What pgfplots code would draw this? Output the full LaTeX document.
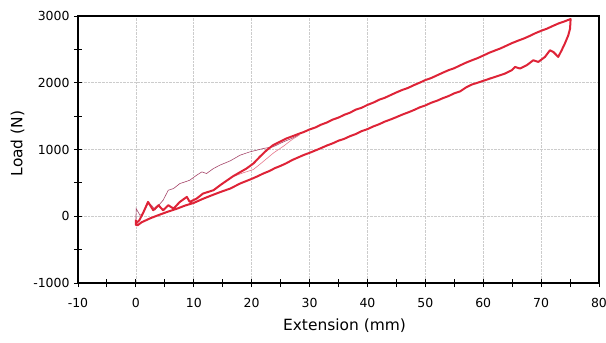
\documentclass[border=0pt]{standalone}
\usepackage{fontspec}
\setmainfont{DejaVu Sans}
\usepackage{pgfplots}
\pgfplotsset{compat=1.18}
\definecolor{mainred}{RGB}{222,35,55}
\definecolor{thinpurple}{RGB}{165,70,105}
\definecolor{lightpink}{RGB}{230,120,140}
\begin{document}
\begin{tikzpicture}
\begin{axis}[
  name=ax,
  scale only axis,
  width=521bp, height=267bp,
  xmin=-10, xmax=80, ymin=-1000, ymax=3000,
  xtick={-10,0,...,80},
  ytick={-1000,0,...,3000},
  minor tick num=1,
  tick pos=left,
  tick align=center,
  major tick length=8bp,
  minor tick length=8bp,
  tick style={black, line width=1pt},
  axis line style={black, line width=1.2pt},
  grid=major,
  major grid style={gray!40, densely dotted, line width=0.7pt},
  /pgf/number format/assume math mode=true,
  /pgf/number format/1000 sep={},
  ticklabel style={font=\fontsize{12.5}{14}\selectfont},
  xticklabel style={yshift=-8bp},
  yticklabel style={xshift=-1bp},
  xlabel={Extension (mm)},
  ylabel={Load (N)},
  label style={font=\fontsize{15.5}{18}\selectfont},
  xlabel style={yshift=-4bp, xshift=6bp},
  ylabel style={yshift=2bp, xshift=6bp},
  clip=false,
]
% thin first-cycle loading curve
\addplot[thinpurple, line width=0.6pt] coordinates {
(0,-80) (0.05,115) (0.7,15) (1.2,40) (2.1,190) (2.7,165) (3.3,95) (4.0,170)
(4.7,240) (5.6,390) (6.5,415) (7.6,490) (8.5,515) (9.3,540) (10.5,615)
(11.4,665) (12.2,640) (13.4,715) (14.5,765) (16.3,830) (18,915) (19.7,965)
(20.9,990) (22,1015) (23.7,1040) (25.5,1115) (26.9,1165) (28,1210)
};
% faint pink intermediate curve
\addplot[lightpink, line width=0.6pt] coordinates {
(17,600) (18.5,650) (20.3,700) (22,820) (23.8,950) (25.5,1050) (27,1150) (28.3,1220)
};
% main loop
\addplot[mainred, line width=2pt, line join=round] coordinates {
(0.1,-100) (0.6,-60) (1.3,60) (2.1,215) (3.0,90) (3.9,165) (4.7,90) (5.6,165)
(6.5,115) (7.6,215) (8.8,290) (9.3,215) (10.5,265) (11.6,340) (13.4,390)
(14.8,480) (16.8,600) (19.1,715) (20.3,790) (21.4,890) (22.6,990) (23.7,1065)
(26,1165) (28.3,1240)
(29,1262) (30,1300) (31,1330) (32,1372) (33,1405) (34,1448) (35,1478) (36,1520)
(37,1552) (38,1598) (39,1625) (40,1668) (41,1702) (42,1745) (43,1775)
(44,1815) (45,1855) (46,1892) (47,1922) (48,1963) (49,2000) (50,2040) (51,2070)
(52,2110) (53,2150) (54,2188) (55,2218) (56,2260) (57,2300) (58,2335) (59,2368)
(60,2407) (61,2448) (62,2482) (63,2515) (64,2555) (65,2595) (66,2630) (67,2662)
(68,2700) (69,2742) (70,2778) (71,2810) (72,2850) (73,2888) (74,2918) (75.1,2955)
(75.0,2812) (74.7,2712) (74.1,2587) (73.55,2487) (72.96,2387) (72.1,2462)
(71.53,2487) (70.67,2387) (69.51,2312) (68.65,2337) (67.51,2262) (66.35,2213)
(65.49,2237) (64.92,2187) (63.76,2138) (62.9,2112) (61.17,2063) (59.44,2012)
(58,1972) (57,1928) (56,1870) (55,1842) (54,1800) (53,1768) (52,1730) (51,1700)
(50,1660) (49,1630) (48,1590) (47,1555) (46,1522) (45,1485) (44,1450) (43,1418)
(42,1378) (41,1345) (40,1305) (39,1275) (38,1232) (37,1200) (36,1160) (35,1132)
(34,1092) (33,1060) (31.8,1014) (30,950) (29,918) (28,880) (27,842) (26,795)
(25,755) (24,720) (23,675) (22,640) (21,598) (20,560) (18,490) (16.3,415) (14.5,360)
(13,310) (11.5,258) (10,200) (8.5,160) (7,110) (5.5,68) (4,20) (2.5,-30)
(1,-90) (0.3,-135) (0,-130) (0,-50)
};
\end{axis}
\pgfresetboundingbox
\path[use as bounding box] ([shift={(-78bp,-60bp)}]ax.south west) rectangle ([shift={(7bp,16bp)}]ax.north east);
\end{tikzpicture}
\end{document}
